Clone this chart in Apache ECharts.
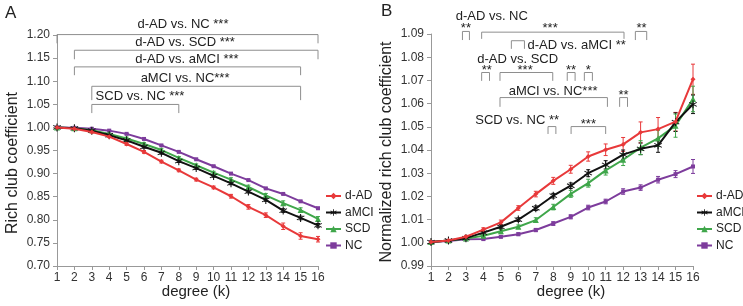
<!DOCTYPE html>
<html>
<head>
<meta charset="utf-8">
<script src="https://cdn.jsdelivr.net/npm/echarts@6/dist/echarts.min.js"></script>
<style>
html, body { margin: 0; padding: 0; background: #fff; }
#main { width: 743px; height: 306px; }
</style>
</head>
<body>
<div id="main"></div>
<script>
var degrees = [1, 2, 3, 4, 5, 6, 7, 8, 9, 10, 11, 12, 13, 14, 15, 16]
var groups = ['d-AD', 'aMCI', 'SCD', 'NC']
var yTicksA = [0.70, 1.20, 0.05]
var yTicksB = [0.99, 1.09, 0.01]

// panel A: rich club coefficient
var adA = [1.000, 0.997, 0.990, 0.980, 0.964, 0.947, 0.926, 0.907, 0.887, 0.870, 0.851, 0.828, 0.810, 0.786, 0.765, 0.758]
var mciA = [1.000, 0.998, 0.993, 0.983, 0.972, 0.958, 0.945, 0.927, 0.912, 0.895, 0.879, 0.861, 0.843, 0.820, 0.804, 0.788]
var scdA = [1.000, 0.998, 0.994, 0.986, 0.976, 0.964, 0.951, 0.934, 0.918, 0.902, 0.887, 0.871, 0.853, 0.836, 0.821, 0.802]
var ncA = [1.000, 0.999, 0.997, 0.993, 0.986, 0.975, 0.961, 0.947, 0.931, 0.916, 0.900, 0.886, 0.868, 0.856, 0.840, 0.825]
var adAerr = [0, 0.001, 0.002, 0.002, 0.003, 0.003, 0.003, 0.003, 0.003, 0.003, 0.004, 0.005, 0.005, 0.007, 0.007, 0.006]
var mciAerr = [0, 0.001, 0.002, 0.002, 0.003, 0.003, 0.003, 0.003, 0.003, 0.003, 0.003, 0.003, 0.003, 0.004, 0.004, 0.004]
var scdAerr = [0, 0.001, 0.002, 0.002, 0.003, 0.003, 0.003, 0.003, 0.003, 0.003, 0.004, 0.004, 0.004, 0.005, 0.005, 0.005]
var ncAerr = [0, 0.001, 0.001, 0.001, 0.001, 0.001, 0.001, 0.001, 0.001, 0.001, 0.001, 0.001, 0.001, 0.001, 0.001, 0.002]

// panel B: normalized rich club coefficient
var adB = [1.0003, 1.0010, 1.0026, 1.0057, 1.0088, 1.0150, 1.0210, 1.0267, 1.0317, 1.0372, 1.0401, 1.0424, 1.0476, 1.0490, 1.0522, 1.0705]
var mciB = [1.0003, 1.0010, 1.0020, 1.0044, 1.0069, 1.0100, 1.0149, 1.0203, 1.0246, 1.0300, 1.0336, 1.0380, 1.0405, 1.0420, 1.0520, 1.0597]
var scdB = [1.0003, 1.0010, 1.0018, 1.0030, 1.0050, 1.0069, 1.0098, 1.0154, 1.0211, 1.0257, 1.0312, 1.0358, 1.0410, 1.0450, 1.0505, 1.0620]
var ncB = [1.0003, 1.0008, 1.0015, 1.0016, 1.0026, 1.0037, 1.0055, 1.0083, 1.0112, 1.0152, 1.0178, 1.0221, 1.0238, 1.0272, 1.0296, 1.0329]
var adBerr = [0.0003, 0.0004, 0.0006, 0.0008, 0.0010, 0.0010, 0.0012, 0.0015, 0.0017, 0.0020, 0.0025, 0.0030, 0.0045, 0.0050, 0.0040, 0.0065]
var mciBerr = [0.0003, 0.0004, 0.0005, 0.0007, 0.0008, 0.0008, 0.0010, 0.0010, 0.0012, 0.0015, 0.0018, 0.0020, 0.0025, 0.0030, 0.0040, 0.0040]
var scdBerr = [0.0003, 0.0004, 0.0005, 0.0006, 0.0007, 0.0008, 0.0010, 0.0012, 0.0015, 0.0017, 0.0020, 0.0025, 0.0030, 0.0035, 0.0050, 0.0055]
var ncBerr = [0.0002, 0.0003, 0.0004, 0.0004, 0.0005, 0.0006, 0.0007, 0.0008, 0.0009, 0.0010, 0.0010, 0.0012, 0.0012, 0.0014, 0.0015, 0.0030]

// significance brackets: [k from, k to, top, bottom]
var bracketsA = [
  [1, 16, 1.2009, 1.182],
  [2, 16, 1.167, 1.1475],
  [2, 15, 1.131, 1.113],
  [3, 15, 1.089, 1.059],
  [3, 8, 1.0497, 1.031]
]
var labelsA = [
  [8.24, 1.2238, 'd-AD vs. NC ***'],
  [8.36, 1.183, 'd-AD vs. SCD ***'],
  [8.47, 1.1475, 'd-AD vs. aMCI ***'],
  [8.36, 1.105, 'aMCI vs. NC***'],
  [5.77, 1.0676, 'SCD vs. NC ***']
]
var bracketsB = [
  [2.8, 3.2, 1.0911, 1.0874],
  [3.9, 12.05, 1.0908, 1.0879],
  [12.7, 13.35, 1.0911, 1.0874],
  [5.6, 6.35, 1.0871, 1.0836],
  [3.9, 4.35, 1.0734, 1.0698],
  [4.95, 7.97, 1.0734, 1.0698],
  [8.8, 9.25, 1.0734, 1.0698],
  [9.78, 10.24, 1.0734, 1.0698],
  [4.95, 11.1, 1.0626, 1.0586],
  [11.8, 12.25, 1.0626, 1.0586],
  [7.7, 8.15, 1.0501, 1.0469],
  [9.02, 11.0, 1.0501, 1.0469]
]
var labelsB = [
  [4.48, 1.0974, 'd-AD vs. NC'],
  [3.0, 1.0925, '**'],
  [7.82, 1.0925, '***'],
  [13.05, 1.0925, '**'],
  [9.34, 1.0850, 'd-AD vs. aMCI **'],
  [5.96, 1.0790, 'd-AD vs. SCD'],
  [4.19, 1.0744, '**'],
  [6.39, 1.0744, '***'],
  [9.02, 1.0744, '**'],
  [10.01, 1.0744, '*'],
  [7.99, 1.0652, 'aMCI vs. NC***'],
  [12.02, 1.0637, '**'],
  [5.93, 1.0529, 'SCD vs. NC **'],
  [10.01, 1.0512, '***']
]

var colors = ['#e8393a', '#111111', '#3fa64a', '#7d3c9c']
var symbols = ['diamond',
  'path://M-1.2,-10L1.2,-10L1.2,10L-1.2,10Z M8.06,-6.04L9.26,-3.96L-8.06,6.04L-9.26,3.96Z M-9.26,-3.96L-8.06,-6.04L9.26,3.96L8.06,6.04Z',
  'triangle', 'rect']
var symbolSizes = [5, 8, 6, 4]
var FONT = '"Liberation Sans", Arial, sans-serif'

var chart = echarts.init(document.getElementById('main'))

function lineSeries(idx, gi, vals) {
  return {
    name: groups[gi],
    type: 'line',
    xAxisIndex: idx,
    yAxisIndex: idx,
    data: degrees.map(function(k, i) { return [k, vals[i]] }),
    symbol: symbols[gi],
    symbolSize: symbolSizes[gi],
    color: colors[gi],
    lineStyle: { width: 2, color: colors[gi] },
    itemStyle: { color: colors[gi] },
    z: 3 + (3 - gi)
  }
}

function errorSeries(idx, gi, vals, errs) {
  var c = colors[gi]
  return {
    type: 'custom',
    xAxisIndex: idx,
    yAxisIndex: idx,
    silent: true,
    clip: false,
    z: 2,
    data: degrees.map(function(k, i) { return [k, vals[i] - errs[i], vals[i] + errs[i]] }),
    renderItem: function(params, api) {
      var lo = api.coord([api.value(0), api.value(1)])
      var hi = api.coord([api.value(0), api.value(2)])
      var st = { stroke: c, lineWidth: 1 }
      return {
        type: 'group',
        children: [
          { type: 'line', shape: { x1: lo[0], y1: lo[1], x2: hi[0], y2: hi[1] }, style: st },
          { type: 'line', shape: { x1: lo[0] - 2, y1: lo[1], x2: lo[0] + 2, y2: lo[1] }, style: st },
          { type: 'line', shape: { x1: hi[0] - 2, y1: hi[1], x2: hi[0] + 2, y2: hi[1] }, style: st }
        ]
      }
    }
  }
}

function bracketSeries(idx, list) {
  return {
    type: 'custom',
    xAxisIndex: idx,
    yAxisIndex: idx,
    silent: true,
    clip: false,
    data: list,
    renderItem: function(params, api) {
      var p1 = api.coord([api.value(0), api.value(2)])
      var p2 = api.coord([api.value(1), api.value(2)])
      var b = api.coord([api.value(0), api.value(3)])[1]
      return {
        type: 'polyline',
        shape: { points: [[p1[0], b], p1, p2, [p2[0], b]] },
        style: { stroke: '#8e8e8e', lineWidth: 1, fill: null }
      }
    }
  }
}

function labelSeries(idx, list) {
  return {
    type: 'custom',
    xAxisIndex: idx,
    yAxisIndex: idx,
    silent: true,
    clip: false,
    data: list.map(function(l) { return [l[0], l[1]] }),
    renderItem: function(params, api) {
      var p = api.coord([api.value(0), api.value(1)])
      return {
        type: 'text',
        style: {
          text: list[params.dataIndex][2],
          x: p[0],
          y: p[1],
          fill: '#222',
          font: '13px ' + FONT,
          align: 'center',
          verticalAlign: 'middle',
          textAlign: 'center',
          textVerticalAlign: 'middle'
        }
      }
    }
  }
}

function xAxisCfg(idx) {
  return {
    type: 'value',
    gridIndex: idx,
    min: 1,
    max: 16,
    interval: 1,
    axisLine: { lineStyle: { color: '#999' } },
    axisTick: { length: 4, lineStyle: { color: '#999' } },
    axisLabel: { color: '#333', fontSize: 12, fontFamily: FONT, margin: 6 },
    splitLine: { show: false }
  }
}

function yAxisCfg(idx, t, digits) {
  return {
    type: 'value',
    gridIndex: idx,
    min: t[0],
    max: t[1],
    interval: t[2],
    axisLine: { show: true, lineStyle: { color: '#999' } },
    axisTick: { show: true, length: 4, lineStyle: { color: '#999' } },
    axisLabel: {
      color: '#333', fontSize: 12, fontFamily: FONT, margin: 7,
      formatter: function(v) { return v.toFixed(digits) }
    },
    splitLine: { show: false }
  }
}

function legendCfg(left) {
  return {
    data: groups,
    orient: 'vertical',
    left: left,
    top: 190,
    padding: 0,
    itemWidth: 15,
    itemHeight: 8,
    itemGap: 4.5,
    textStyle: { color: '#222', fontSize: 12, fontFamily: FONT, padding: [0, 0, 0, -1] }
  }
}

var option = {
  animation: false,
  backgroundColor: '#fff',
  grid: [
    { left: 57, top: 35, width: 261, height: 231 },
    { left: 431, top: 34, width: 262, height: 232 }
  ],
  xAxis: [xAxisCfg(0), xAxisCfg(1)],
  yAxis: [yAxisCfg(0, yTicksA, 2), yAxisCfg(1, yTicksB, 2)],
  legend: [legendCfg(325), legendCfg(696)],
  graphic: [
    { type: 'text', left: 5, top: 5, style: { text: 'A', font: '17px ' + FONT, fill: '#222' } },
    { type: 'text', left: 381, top: 3, style: { text: 'B', font: '17px ' + FONT, fill: '#222' } },
    { type: 'text', x: 196, y: 292, style: { text: 'degree (k)', font: '15px ' + FONT, fill: '#222', align: 'center', verticalAlign: 'middle' } },
    { type: 'text', x: 571, y: 292, style: { text: 'degree (k)', font: '15px ' + FONT, fill: '#222', align: 'center', verticalAlign: 'middle' } },
    { type: 'text', x: 13, y: 163, rotation: Math.PI / 2, style: { text: 'Rich club coefficient', font: '16px ' + FONT, fill: '#222', align: 'center', verticalAlign: 'middle' } },
    { type: 'text', x: 387, y: 152, rotation: Math.PI / 2, style: { text: 'Normalized rich club coefficient', font: '16px ' + FONT, fill: '#222', align: 'center', verticalAlign: 'middle' } }
  ],
  series: [
    errorSeries(0, 0, adA, adAerr),
    errorSeries(0, 1, mciA, mciAerr),
    errorSeries(0, 2, scdA, scdAerr),
    errorSeries(0, 3, ncA, ncAerr),
    lineSeries(0, 0, adA),
    lineSeries(0, 1, mciA),
    lineSeries(0, 2, scdA),
    lineSeries(0, 3, ncA),
    errorSeries(1, 0, adB, adBerr),
    errorSeries(1, 1, mciB, mciBerr),
    errorSeries(1, 2, scdB, scdBerr),
    errorSeries(1, 3, ncB, ncBerr),
    lineSeries(1, 0, adB),
    lineSeries(1, 1, mciB),
    lineSeries(1, 2, scdB),
    lineSeries(1, 3, ncB),
    bracketSeries(0, bracketsA),
    labelSeries(0, labelsA),
    bracketSeries(1, bracketsB),
    labelSeries(1, labelsB)
  ]
}
chart.setOption(option)
</script>
</body>
</html>
